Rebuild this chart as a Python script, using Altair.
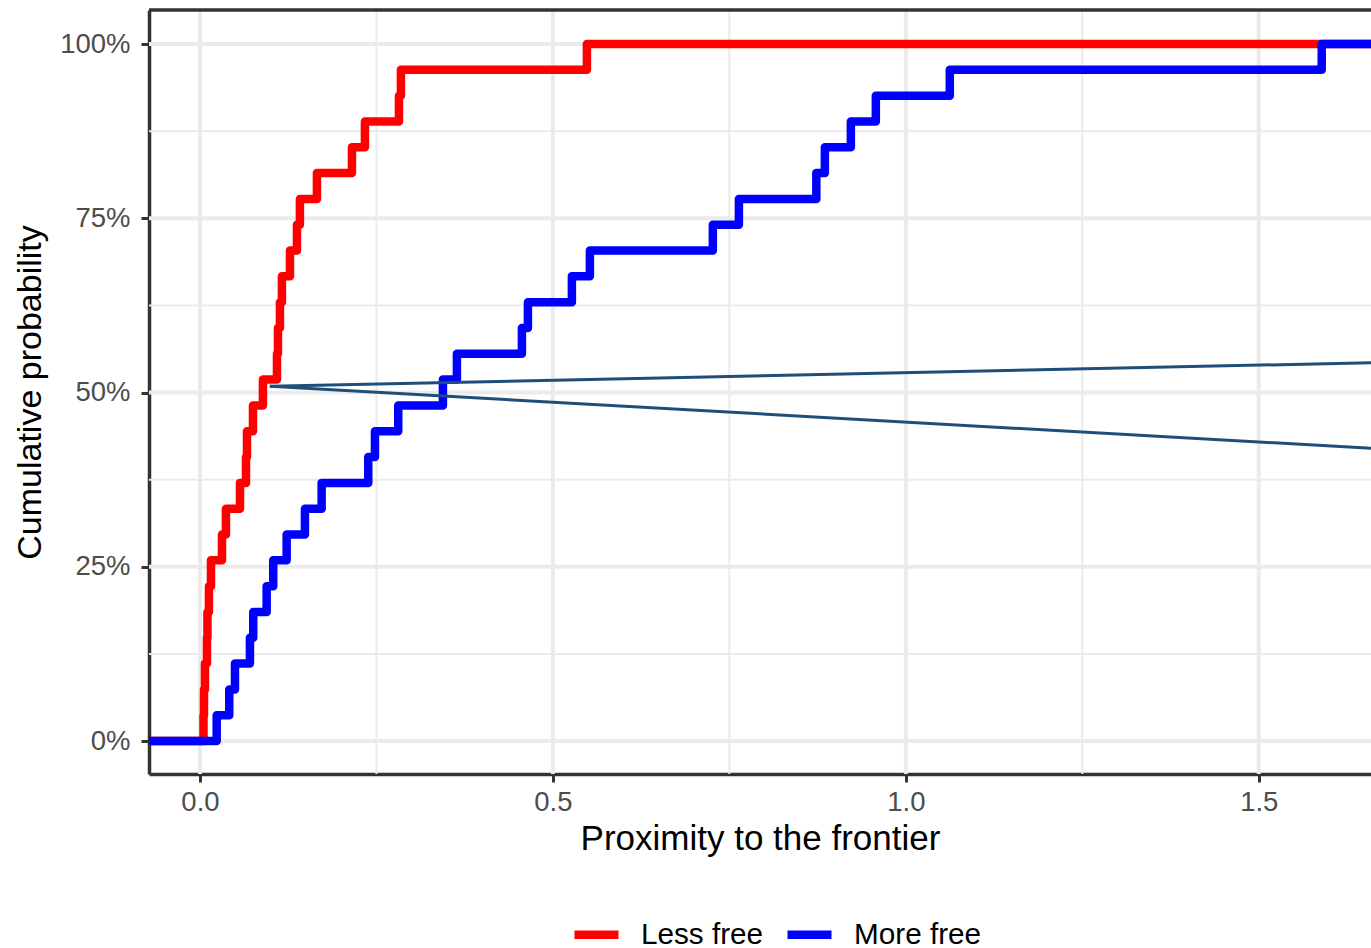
import altair as alt
import pandas as pd

# ---- data ----
groups = ["Less free", "More free"]
group_colors = ["#FF0000", "#0000FF"]

less_free = [0.0050, 0.0057, 0.0071, 0.0099, 0.0106, 0.0127, 0.0156, 0.0312, 0.0368,
             0.0567, 0.0652, 0.0666, 0.0751, 0.0892, 0.1091, 0.1105, 0.1133, 0.1161,
             0.1275, 0.1374, 0.1416, 0.1657, 0.2153, 0.2337, 0.2819, 0.2847, 0.5482]
more_free = [0.0237, 0.0415, 0.0496, 0.0708, 0.0755, 0.0945, 0.1038, 0.1228, 0.1487,
             0.1724, 0.2384, 0.2479, 0.2809, 0.3442, 0.3640, 0.4561, 0.4646, 0.5269,
             0.5524, 0.7266, 0.7635, 0.8732, 0.8853, 0.9221, 0.9575, 1.0623, 1.5892]

ref_x = [0.099, 1.659]
ref_upper = [0.509, 0.5427]
ref_lower = [0.509, 0.420]

x_ticks = [0.0, 0.5, 1.0, 1.5]
x_minor = [0.25, 0.75, 1.25]
y_ticks = [0.0, 0.25, 0.5, 0.75, 1.0]
y_minor = [0.125, 0.375, 0.625, 0.875]

x_domain = [-0.0722, 1.659]
y_domain = [-0.0473, 1.0488]

# ---- build ECDF table (padded to -Inf / +Inf like stat_ecdf) ----
rows = []
for g, vals in zip(groups, [less_free, more_free]):
    n = len(vals)
    rows.append({"x": x_domain[0] - 1, "y": 0.0, "group": g, "order": 0})
    for i, v in enumerate(sorted(vals)):
        rows.append({"x": v, "y": (i + 1) / n, "group": g, "order": i + 1})
    rows.append({"x": x_domain[1] + 1, "y": 1.0, "group": g, "order": n + 1})
ecdf = pd.DataFrame(rows)

ref = pd.DataFrame(
    [{"x": ref_x[i], "y": ref_upper[i], "seg": "upper"} for i in range(2)]
    + [{"x": ref_x[i], "y": ref_lower[i], "seg": "lower"} for i in range(2)]
)

W, H = 1222, 764
FONT = "Liberation Sans"
GRID = "#EBEBEB"
DARK = "#333333"

xs = alt.Scale(domain=x_domain, nice=False, zero=False)
ys = alt.Scale(domain=y_domain, nice=False, zero=False)

x_axis = alt.Axis(
    values=x_ticks, format=".1f", grid=False, labelFlush=False,
    labelFontSize=27.5, labelColor="#4D4D4D", labelFont=FONT, labelPadding=6,
    tickColor=DARK, tickSize=8, tickWidth=3,
    domainColor=DARK, domainWidth=3.5,
    title="Proximity to the frontier", titleFontSize=35, titleFont=FONT,
    titleFontWeight="normal", titleColor="black", titlePadding=6)
y_axis = alt.Axis(
    values=y_ticks, format=".0%", grid=False,
    labelFontSize=27.5, labelColor="#4D4D4D", labelFont=FONT, labelPadding=11,
    tickColor=DARK, tickSize=8, tickWidth=3,
    domainColor=DARK, domainWidth=3.5,
    title="Cumulative probability", titleFontSize=34, titleFont=FONT,
    titleFontWeight="normal", titleColor="black", titlePadding=12)

grid_x_major = alt.Chart(pd.DataFrame({"v": x_ticks})).mark_rule(
    color=GRID, strokeWidth=4).encode(x=alt.X("v:Q", scale=xs, axis=x_axis))
grid_x_minor = alt.Chart(pd.DataFrame({"v": x_minor})).mark_rule(
    color=GRID, strokeWidth=2).encode(x=alt.X("v:Q", scale=xs, axis=x_axis))
grid_y_major = alt.Chart(pd.DataFrame({"v": y_ticks})).mark_rule(
    color=GRID, strokeWidth=4).encode(y=alt.Y("v:Q", scale=ys, axis=y_axis))
grid_y_minor = alt.Chart(pd.DataFrame({"v": y_minor})).mark_rule(
    color=GRID, strokeWidth=2).encode(y=alt.Y("v:Q", scale=ys, axis=y_axis))

lines = alt.Chart(ecdf).mark_line(
    interpolate="step-after", strokeWidth=8.5, clip=True, strokeJoin="round"
).encode(
    x=alt.X("x:Q", scale=xs, axis=x_axis),
    y=alt.Y("y:Q", scale=ys, axis=y_axis),
    color=alt.Color("group:N", scale=alt.Scale(domain=groups, range=group_colors),
                    legend=alt.Legend(
                        orient="none", legendX=421, legendY=898, direction="horizontal",
                        title=None, symbolType="stroke", symbolStrokeWidth=8.5,
                        symbolSize=1936, labelFontSize=29.7, labelFont=FONT,
                        labelColor="black", labelOffset=18, columnPadding=6, padding=0)),
    order=alt.Order("order:Q"),
)

ref_lines = alt.Chart(ref).mark_line(color="#1F4E79", strokeWidth=3, clip=True).encode(
    x=alt.X("x:Q", scale=xs, axis=x_axis),
    y=alt.Y("y:Q", scale=ys, axis=y_axis),
    detail="seg:N",
)

top_border = alt.Chart(pd.DataFrame({"v": [0]})).mark_rule(
    color=DARK, strokeWidth=3.5).encode(
    x=alt.value(0), x2=alt.value(W), y=alt.value(0))

chart = alt.layer(
    grid_y_minor, grid_x_minor, grid_y_major, grid_x_major, lines, ref_lines, top_border
).properties(
    width=W, height=H,
    autosize=alt.AutoSizeParams(type="none"),
    padding={"left": 149, "top": 10, "right": 0, "bottom": 174},
    background="white",
).configure_view(stroke=None)

chart.save("out.html", embed_options={"renderer": "svg", "actions": False})
